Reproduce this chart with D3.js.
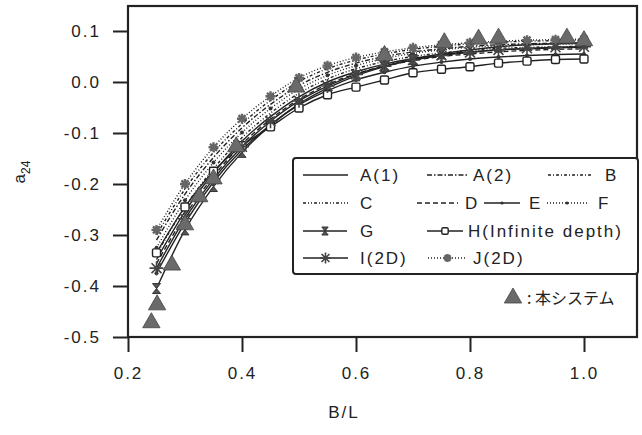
<!DOCTYPE html>
<html>
<head>
<meta charset="utf-8">
<script src="https://cdn.jsdelivr.net/npm/d3@7"></script>
<style>
body { margin: 0; background: #fff; }
text { font-family: "Liberation Sans", Arial, sans-serif; fill: #222; }
</style>
</head>
<body>
<div id="graph"></div>
<script>
// B/L sample points shared by every method
var bl = [0.25, 0.3, 0.35, 0.4, 0.45, 0.5, 0.55, 0.6, 0.65, 0.7, 0.75, 0.8, 0.85, 0.9, 0.95, 1.0]

var a1 = [-0.348, -0.254, -0.178, -0.116, -0.068, -0.029, 0.000, 0.020, 0.035, 0.046, 0.054, 0.059, 0.063, 0.065, 0.067, 0.068]
var a2 = [-0.310, -0.220, -0.148, -0.090, -0.044, -0.007, 0.019, 0.037, 0.050, 0.059, 0.065, 0.070, 0.073, 0.075, 0.076, 0.077]
var bv = [-0.300, -0.210, -0.138, -0.082, -0.036, 0.001, 0.026, 0.043, 0.055, 0.064, 0.070, 0.075, 0.078, 0.080, 0.081, 0.082]
var cv = [-0.338, -0.245, -0.170, -0.109, -0.061, -0.022, 0.006, 0.026, 0.040, 0.050, 0.057, 0.062, 0.066, 0.068, 0.069, 0.070]
var dv = [-0.356, -0.262, -0.185, -0.122, -0.073, -0.034, -0.005, 0.016, 0.031, 0.042, 0.050, 0.055, 0.059, 0.062, 0.064, 0.065]
var ev = [-0.375, -0.276, -0.196, -0.133, -0.084, -0.045, -0.017, 0.004, 0.019, 0.031, 0.039, 0.045, 0.049, 0.052, 0.054, 0.055]
var fv = [-0.325, -0.232, -0.158, -0.099, -0.052, -0.014, 0.013, 0.032, 0.046, 0.056, 0.063, 0.068, 0.071, 0.073, 0.074, 0.075]
var gv = [-0.405, -0.290, -0.205, -0.138, -0.085, -0.043, -0.012, 0.012, 0.030, 0.044, 0.055, 0.063, 0.069, 0.073, 0.075, 0.076]
var hv = [-0.335, -0.245, -0.175, -0.125, -0.088, -0.051, -0.025, -0.010, 0.004, 0.018, 0.025, 0.030, 0.037, 0.041, 0.044, 0.045]
var iv = [-0.365, -0.268, -0.190, -0.127, -0.077, -0.037, -0.008, 0.015, 0.031, 0.043, 0.052, 0.058, 0.063, 0.066, 0.068, 0.069]
var jv = [-0.290, -0.200, -0.128, -0.072, -0.028, 0.008, 0.032, 0.048, 0.059, 0.067, 0.073, 0.077, 0.080, 0.082, 0.083, 0.084]

// 本システム (triangles)
var triX = [0.241, 0.251, 0.277, 0.300, 0.325, 0.350, 0.390, 0.495, 0.650, 0.755, 0.815, 0.850, 0.970, 1.000]
var triY = [-0.472, -0.437, -0.359, -0.280, -0.225, -0.190, -0.127, -0.010, 0.052, 0.077, 0.084, 0.086, 0.086, 0.081]

var xTicks = [0.2, 0.4, 0.6, 0.8, 1.0]
var yTicks = [0.1, 0.0, -0.1, -0.2, -0.3, -0.4, -0.5]

var names = ['A(1)', 'A(2)', 'B', 'C', 'D', 'E', 'F', 'G', 'H(Infinite depth)', 'I(2D)', 'J(2D)']
var values = [a1, a2, bv, cv, dv, ev, fv, gv, hv, iv, jv]

// line style per series (same order as names)
var dashes = ['', '5,2,1.5,2', '3,2,1,2', '3,2,1,2,1,2', '5,3', '', '1,2', '', '', '', '1,2']
var marks  = ['', '', '', '', '', 'dot', 'dot', 'glass', 'square', 'star', 'fstar']

var W = 642, H = 435
var svg = d3.select('#graph').append('svg').attr('width', W).attr('height', H)

var x = d3.scaleLinear().domain([0.2, 1.093]).range([128, 637])
var y = d3.scaleLinear().domain([-0.5, 0.149]).range([337, 6])

var line = d3.line()
  .x(function(d){ return x(d[0]) })
  .y(function(d){ return y(d[1]) })
  .curve(d3.curveMonotoneX)

// axes
var fmt = function(d){ return d.toFixed(1) }
var yAxis = svg.append('g').attr('transform', 'translate(128,0)')
  .call(d3.axisLeft(y).tickValues(yTicks).tickFormat(fmt).tickSize(15).tickPadding(12).tickSizeOuter(0))
var xAxis = svg.append('g').attr('transform', 'translate(0,337)')
  .call(d3.axisBottom(x).tickValues(xTicks).tickFormat(fmt).tickSize(15).tickPadding(15).tickSizeOuter(0))

svg.selectAll('.tick line').attr('stroke', '#222').attr('stroke-width', 2)
svg.selectAll('.domain').remove()
svg.selectAll('.tick text').style('font-size', '17px').style('letter-spacing', '2px').attr('fill', '#222')

// frame
svg.append('rect').attr('x', 128).attr('y', 6).attr('width', 509).attr('height', 331)
  .attr('fill', 'none').attr('stroke', '#222').attr('stroke-width', 2.2)

function marker(g, type, s){
  if (type == 'dot') {
    g.append('circle').attr('r', 2 * s).attr('fill', '#333')
  } else if (type == 'glass') {
    g.append('path').attr('d', 'M' + (-4*s) + ',' + (-5*s) + 'H' + (4*s) + 'L' + (-4*s) + ',' + (5*s) + 'H' + (4*s) + 'Z')
      .attr('fill', '#555').attr('stroke', '#333').attr('stroke-width', 1)
  } else if (type == 'square') {
    g.append('rect').attr('x', -4*s).attr('y', -4*s).attr('width', 8*s).attr('height', 8*s).attr('rx', 1.5)
      .attr('fill', '#fff').attr('stroke', '#222').attr('stroke-width', 1.4)
  } else if (type == 'star' || type == 'fstar') {
    var r = (type == 'star' ? 7 : 5) * s
    var p = ''
    for (var k = 0; k < 4; k++) {
      var a = k * Math.PI / 4
      p += 'M' + (-r*Math.cos(a)) + ',' + (-r*Math.sin(a)) + 'L' + (r*Math.cos(a)) + ',' + (r*Math.sin(a))
    }
    g.append('path').attr('d', p).attr('stroke', type == 'star' ? '#444' : '#666')
      .attr('stroke-width', type == 'star' ? 1.6 : 2.4)
  }
}

// curves
var plot = svg.append('g')
values.forEach(function(v, i){
  var pts = bl.map(function(b, k){ return [b, v[k]] })
  plot.append('path').attr('d', line(pts))
    .attr('fill', 'none').attr('stroke', '#222').attr('stroke-width', 1.4)
    .attr('stroke-dasharray', dashes[i] || null)
  if (marks[i]) {
    pts.forEach(function(p){
      marker(plot.append('g').attr('transform', 'translate(' + x(p[0]) + ',' + y(p[1]) + ')'), marks[i], 1)
    })
  }
})

// 本システム triangles
var tri = d3.symbol().type(d3.symbolTriangle).size(130)
svg.append('g').selectAll('path').data(triX).join('path')
  .attr('d', tri)
  .attr('transform', function(d, k){ return 'translate(' + x(d) + ',' + y(triY[k]) + ')' })
  .attr('fill', '#6a6a6a').attr('stroke', '#444').attr('stroke-width', 0.8)

// legend
var lg = svg.append('g')
lg.append('rect').attr('x', 293).attr('y', 158).attr('width', 345).attr('height', 116).attr('rx', 3)
  .attr('fill', '#fff').attr('stroke', '#222').attr('stroke-width', 2)

// legend slots: [series index, row y, line x1, line x2, text x]
var slots = [
  [0, 175, 303, 348, 360], [1, 175, 427, 468, 473], [2, 175, 548, 592, 605],
  [3, 203, 303, 348, 360], [4, 203, 417, 458, 465], [5, 203, 484, 520, 529], [6, 203, 547, 587, 598],
  [7, 231, 303, 347, 360], [8, 231, 427, 463, 468],
  [9, 258, 303, 348, 360], [10, 258, 428, 467, 473]
]
slots.forEach(function(s){
  var i = s[0]
  lg.append('line').attr('x1', s[2]).attr('x2', s[3]).attr('y1', s[1]).attr('y2', s[1])
    .attr('stroke', '#222').attr('stroke-width', 1.3).attr('stroke-dasharray', dashes[i] || null)
  if (marks[i]) marker(lg.append('g').attr('transform', 'translate(' + (s[2] + s[3]) / 2 + ',' + s[1] + ')'), marks[i], 0.8)
  lg.append('text').attr('x', s[4]).attr('y', s[1] + 6)
    .style('font-size', '17px').style('letter-spacing', '2px').text(names[i])
})

// triangle note
svg.append('path').attr('d', tri).attr('transform', 'translate(513,298)')
  .attr('fill', '#6a6a6a').attr('stroke', '#444').attr('stroke-width', 0.8)
svg.append('text').attr('x', 527).attr('y', 304)
  .style('font-family', '"Noto Sans CJK JP", sans-serif').style('font-size', '16px')
  .text(': 本システム')

// axis titles
svg.append('text').attr('x', 344).attr('y', 418).attr('text-anchor', 'middle')
  .style('font-size', '17px').style('letter-spacing', '2px').text('B/L')
var yt = svg.append('text').attr('transform', 'translate(25,172) rotate(-90)').attr('text-anchor', 'middle')
  .style('font-size', '17px')
yt.append('tspan').text('a')
yt.append('tspan').attr('dy', 5).style('font-size', '12px').text('24')
</script>
</body>
</html>
